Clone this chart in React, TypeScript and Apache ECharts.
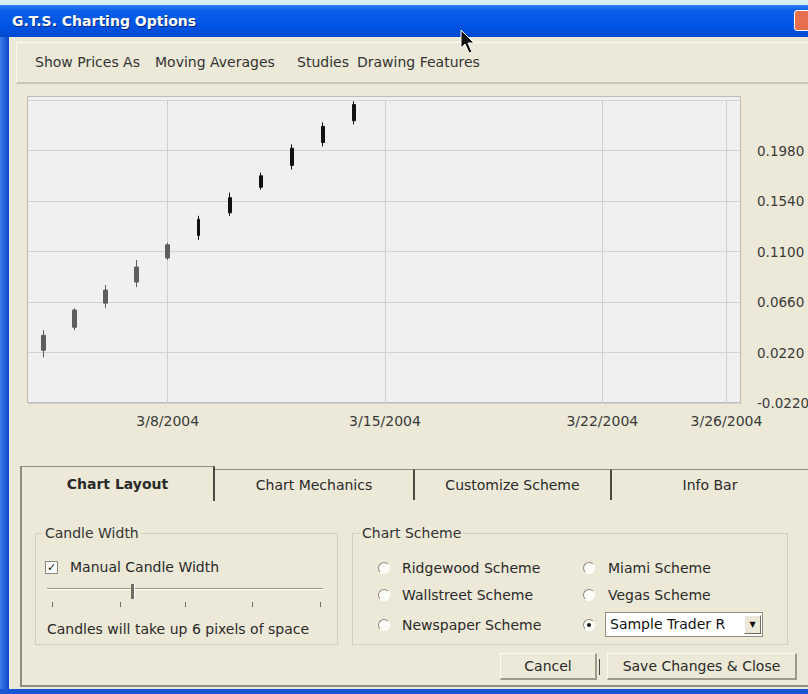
import React, { useEffect, useRef } from "react";
import * as echarts from "echarts";

const categories = [
  "3/4/2004", "3/5/2004", "3/6/2004", "3/7/2004", "3/8/2004", "3/9/2004",
  "3/10/2004", "3/11/2004", "3/12/2004", "3/13/2004", "3/14/2004", "3/15/2004",
  "3/16/2004", "3/17/2004", "3/18/2004", "3/19/2004", "3/20/2004", "3/21/2004",
  "3/22/2004", "3/23/2004", "3/24/2004", "3/25/2004", "3/26/2004",
];
const opens = [0.024, 0.044, 0.065, 0.0834, 0.1044, 0.124, 0.1437, 0.166, 0.185, 0.205, 0.224];
const closes = [0.037, 0.059, 0.0764, 0.0965, 0.1158, 0.138, 0.1569, 0.176, 0.2, 0.219, 0.238];
const lows = [0.0177, 0.0414, 0.0606, 0.079, 0.1026, 0.1202, 0.1411, 0.1639, 0.1814, 0.2015, 0.2208];
const highs = [0.0414, 0.0606, 0.0808, 0.1026, 0.1175, 0.1411, 0.1613, 0.1788, 0.2033, 0.2225, 0.2409];
const grayCandles = 5;
const labeledDates = ["3/8/2004", "3/15/2004", "3/22/2004", "3/26/2004"];
const yMin = -0.022;
const yMax = 0.242;
const yStep = 0.044;

const menuItems = ["Show Prices As", "Moving Averages", "Studies", "Drawing Features"];
const menuX = [35, 155, 297, 357];
const tabs = ["Chart Layout", "Chart Mechanics", "Customize Scheme", "Info Bar"];
const schemesLeft = ["Ridgewood Scheme", "Wallstreet Scheme", "Newspaper Scheme"];
const schemesRight = ["Miami Scheme", "Vegas Scheme"];

const FONT = "'DejaVu Sans', Verdana, sans-serif";

function Chart() {
  const ref = useRef<HTMLDivElement>(null);
  useEffect(() => {
    if (!ref.current) return;
    const chart = echarts.init(ref.current, undefined, { renderer: "svg" });
    const ohlc = opens.map((o, i) => [o, closes[i], lows[i], highs[i]]);
    chart.setOption({
      animation: false,
      graphic: [
        {
          type: "rect",
          z: -10,
          silent: true,
          shape: { x: 27.5, y: 12.5, width: 713, height: 306 },
          style: { fill: "#F0F0F0", stroke: "#bdbcb4", lineWidth: 1 },
        },
      ],
      grid: {
        left: 28,
        top: 16,
        width: 714,
        height: 303,
        show: false,
        containLabel: false,
        outerBoundsMode: "none",
      },
      xAxis: {
        type: "category",
        data: categories,
        boundaryGap: true,
        axisLine: { show: false },
        axisTick: { show: false },
        splitLine: { show: false },
        axisLabel: {
          interval: (idx: number, val: string) => labeledDates.indexOf(val) >= 0,
          color: "#3a3a3a",
          fontFamily: FONT,
          fontSize: 14,
          margin: 11,
        },
      },
      yAxis: {
        type: "value",
        position: "right",
        min: yMin,
        max: yMax,
        interval: yStep,
        axisLine: { show: false },
        axisTick: { show: false },
        splitLine: { show: true, lineStyle: { color: "#d2d2d2", width: 1 } },
        axisLabel: {
          showMaxLabel: false,
          formatter: (v: number) => v.toFixed(4),
          color: "#3a3a3a",
          fontFamily: FONT,
          fontSize: 13.5,
          margin: 15,
        },
      },
      series: [
        {
          type: "candlestick",
          z: 3,
          barWidth: 4,
          data: ohlc.map((v, i) => (i < grayCandles ? v : "-")),
          itemStyle: {
            color: "#5e5e5e",
            color0: "#5e5e5e",
            borderColor: "#5e5e5e",
            borderColor0: "#5e5e5e",
            borderWidth: 1,
          },
          markLine: {
            silent: true,
            z: 1,
            symbol: ["none", "none"],
            label: { show: false },
            lineStyle: { color: "#d0d0d0", type: "solid", width: 1 },
            data: labeledDates.map((d) => ({ xAxis: d })),
          },
        },
        {
          type: "candlestick",
          z: 3,
          barWidth: 3,
          data: ohlc.map((v, i) => (i >= grayCandles ? v : "-")),
          itemStyle: {
            color: "#111111",
            color0: "#111111",
            borderColor: "#111111",
            borderColor0: "#111111",
            borderWidth: 1,
          },
        },
      ],
    });
    return () => chart.dispose();
  }, []);
  return (
    <div
      ref={ref}
      style={{ position: "absolute", left: 0, top: 84, width: 808, height: 356 }}
    />
  );
}

const abs = (l: number, t: number, w?: number, h?: number): React.CSSProperties => ({
  position: "absolute",
  left: l,
  top: t,
  width: w,
  height: h,
});

function Radio({ x, y, checked }: { x: number; y: number; checked?: boolean }) {
  return (
    <div
      style={{
        ...abs(x, y, 12, 12),
        borderRadius: "50%",
        background: "#fbfbf8",
        borderTop: "1px solid #8c8a80",
        borderLeft: "1px solid #8c8a80",
        borderRight: "1px solid #ffffff",
        borderBottom: "1px solid #ffffff",
        boxSizing: "border-box",
      }}
    >
      {checked && (
        <div style={{ ...abs(3, 3, 4, 4), borderRadius: "50%", background: "#111" }} />
      )}
    </div>
  );
}

function GroupBox({ x, y, w, h, title }: { x: number; y: number; w: number; h: number; title: string }) {
  return (
    <>
      <div
        style={{
          ...abs(x, y, w, h),
          border: "1px solid #d0d0bf",
          boxSizing: "border-box",
        }}
      />
      <div
        style={{
          ...abs(x + 8, y - 9, undefined, 18),
          background: "#ECE9D8",
          padding: "0 2px",
          lineHeight: "18px",
          color: "#333",
          whiteSpace: "nowrap",
        }}
      >
        {title}
      </div>
    </>
  );
}

export default function App() {
  const tabEdges = [20, 215, 413, 610, 808];
  const sliderTicks = [52, 120, 185, 252, 320];
  return (
    <div
      style={{
        position: "fixed",
        left: 0,
        top: 0,
        width: 808,
        height: 694,
        overflow: "hidden",
        background: "#ECE9D8",
        fontFamily: FONT,
        fontSize: 14,
        color: "#2a2a2a",
      }}
    >
      {/* window top strip and title bar */}
      <div style={{ ...abs(0, 0, 808, 5), background: "#d6eef6" }} />
      <div
        style={{
          ...abs(0, 5, 808, 32),
          background: "linear-gradient(#2f7bf5 0%, #0a5fe8 18%, #0055e5 60%, #0048d0 100%)",
        }}
      />
      <div
        style={{
          ...abs(12, 12, 400, 18),
          color: "#ffffff",
          fontWeight: "bold",
          fontSize: 14,
          lineHeight: "18px",
          textShadow: "1px 1px 0 #0a2a80",
          whiteSpace: "nowrap",
        }}
      >
        G.T.S. Charting Options
      </div>
      <div
        style={{
          ...abs(794, 10, 22, 21),
          background: "#e4704e",
          border: "1px solid #ffffff",
          borderRadius: 3,
          boxSizing: "border-box",
        }}
      />
      {/* left and bottom window borders */}
      <div style={{ ...abs(0, 37, 9, 657), background: "linear-gradient(90deg,#3d7cea,#0846cc)" }} />
      <div style={{ ...abs(0, 689, 808, 5), background: "#1a56d2" }} />

      {/* menu bar */}
      <div
        style={{
          ...abs(16, 42, 800, 42),
          borderTop: "1px solid #fbfbf6",
          borderLeft: "1px solid #fbfbf6",
          borderBottom: "2px solid #c9c6b3",
          boxSizing: "border-box",
        }}
      />
      {menuItems.map((m, i) => (
        <div key={m} style={{ ...abs(menuX[i], 53, undefined, 18), lineHeight: "18px", whiteSpace: "nowrap", color: "#333" }}>
          {m}
        </div>
      ))}

      {/* mouse cursor */}
      <svg style={abs(460, 29, 16, 26)} viewBox="0 0 16 26">
        <polygon points="1,1 1,19 5,15 9,24 12,23 8,14 14,14" fill="#111" stroke="#fff" strokeWidth="1" />
      </svg>

      <Chart />

      {/* tab panel */}
      <div
        style={{
          ...abs(20, 499, 800, 188),
          borderTop: "1px solid #8f8c80",
          borderLeft: "2px solid #8f8c80",
          borderBottom: "2px solid #8f8c80",
          background: "#ECE9D8",
          boxSizing: "border-box",
        }}
      />
      {tabs.map((t, i) => {
        const x0 = tabEdges[i];
        const x1 = tabEdges[i + 1];
        const sel = i === 0;
        return (
          <div
            key={t}
            style={{
              ...abs(x0, sel ? 466 : 469, x1 - x0, sel ? 35 : 31),
              borderTop: "1px solid #8f8c80",
              borderLeft: sel ? "2px solid #8f8c80" : i === 1 ? "none" : "2px solid #4a4a44",
              borderRight: sel ? "2px solid #4a4a44" : "none",
              background: "#ECE9D8",
              boxSizing: "border-box",
              textAlign: "center",
              lineHeight: sel ? "34px" : "30px",
              fontWeight: sel ? "bold" : "normal",
              color: "#2a2a2a",
              whiteSpace: "nowrap",
            }}
          >
            {t}
          </div>
        );
      })}

      {/* Candle Width group */}
      <GroupBox x={35} y={533} w={303} h={112} title="Candle Width" />
      <div
        style={{
          ...abs(45, 561, 13, 13),
          background: "#ffffff",
          border: "1px solid #8c8a80",
          boxSizing: "border-box",
          fontSize: 11,
          lineHeight: "11px",
          textAlign: "center",
          color: "#111",
        }}
      >
        ✓
      </div>
      <div style={{ ...abs(70, 558, undefined, 18), lineHeight: "18px", whiteSpace: "nowrap" }}>
        Manual Candle Width
      </div>
      <div style={{ ...abs(47, 588, 276, 1), background: "#9a988c" }} />
      <div style={{ ...abs(47, 589, 276, 1), background: "#ffffff" }} />
      <div style={{ ...abs(131, 584, 3, 15), background: "#6f6d64", borderRight: "1px solid #fff" }} />
      {sliderTicks.map((x) => (
        <div key={x} style={{ ...abs(x, 602, 1, 5), background: "#6f6d64" }} />
      ))}
      <div style={{ ...abs(47, 620, undefined, 18), lineHeight: "18px", whiteSpace: "nowrap" }}>
        Candles will take up 6 pixels of space
      </div>

      {/* Chart Scheme group */}
      <GroupBox x={352} y={533} w={436} h={112} title="Chart Scheme" />
      {schemesLeft.map((s, i) => (
        <React.Fragment key={s}>
          <Radio x={378} y={[562, 589, 619][i]} />
          <div style={{ ...abs(402, [559, 586, 616][i], undefined, 18), lineHeight: "18px", whiteSpace: "nowrap" }}>{s}</div>
        </React.Fragment>
      ))}
      {schemesRight.map((s, i) => (
        <React.Fragment key={s}>
          <Radio x={583} y={[562, 589][i]} />
          <div style={{ ...abs(608, [559, 586][i], undefined, 18), lineHeight: "18px", whiteSpace: "nowrap" }}>{s}</div>
        </React.Fragment>
      ))}
      <Radio x={583} y={619} checked />
      <div
        style={{
          ...abs(605, 612, 158, 25),
          background: "#ffffff",
          border: "1px solid #8f8c80",
          boxSizing: "border-box",
          overflow: "hidden",
        }}
      >
        <div style={{ ...abs(4, 2, undefined, 19), lineHeight: "19px", whiteSpace: "nowrap", color: "#111" }}>
          Sample Trader R
        </div>
        <div
          style={{
            ...abs(138, 2, 17, 19),
            background: "#ECE9D8",
            borderTop: "1px solid #fff",
            borderLeft: "1px solid #fff",
            borderRight: "1px solid #6f6d64",
            borderBottom: "1px solid #6f6d64",
            boxSizing: "border-box",
            fontSize: 8,
            lineHeight: "17px",
            textAlign: "center",
            color: "#111",
          }}
        >
          ▼
        </div>
      </div>

      {/* buttons */}
      {[
        { x: 500, w: 97, t: "Cancel" },
        { x: 607, w: 190, t: "Save Changes & Close" },
      ].map((b) => (
        <div
          key={b.t}
          style={{
            ...abs(b.x, 653, b.w, 27),
            background: "#ECE9D8",
            borderTop: "1px solid #fbfbf6",
            borderLeft: "1px solid #fbfbf6",
            borderRight: "2px solid #9d9a8c",
            borderBottom: "2px solid #9d9a8c",
            boxSizing: "border-box",
            textAlign: "center",
            lineHeight: "24px",
            whiteSpace: "nowrap",
            color: "#2a2a2a",
          }}
        >
          {b.t}
        </div>
      ))}
      <div style={{ ...abs(599, 659, 1, 16), background: "#444" }} />
    </div>
  );
}
